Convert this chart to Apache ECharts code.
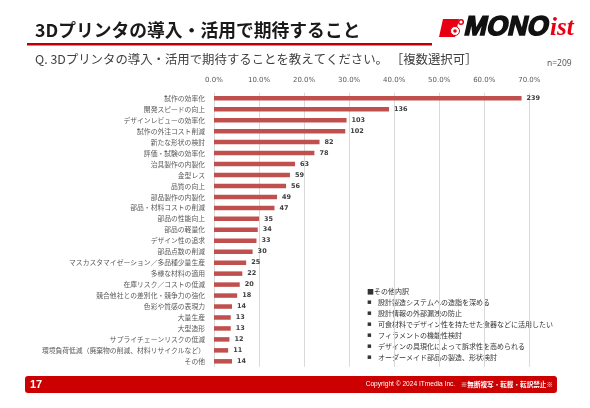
<!DOCTYPE html>
<html>
<head>
<meta charset="utf-8">
<script src="https://cdn.jsdelivr.net/npm/echarts@6/dist/echarts.min.js"></script>
<style>
html,body{margin:0;padding:0;background:#fff;}
#chart{width:590px;height:408px;}
</style>
</head>
<body>
<div id="chart"></div>
<script>
// ---- data ----
const categories = [
  '試作の効率化','開発スピードの向上','デザインレビューの効率化','試作の外注コスト削減',
  '新たな形状の検討','評価・試験の効率化','治具製作の内製化','金型レス','品質の向上',
  '部品製作の内製化','部品・材料コストの削減','部品の性能向上','部品の軽量化',
  'デザイン性の追求','部品点数の削減','マスカスタマイゼーション／多品種少量生産',
  '多様な材料の適用','在庫リスク／コストの低減','競合他社との差別化・競争力の強化',
  '色彩や質感の表現力','大量生産','大型造形','サプライチェーンリスクの低減',
  '環境負荷低減（廃棄物の削減、材料リサイクルなど）','その他'
];
const counts = [239,136,103,102,82,78,63,59,56,49,47,35,34,33,30,25,22,20,18,14,13,13,12,11,14];
const tickLabels = ['0.0%','10.0%','20.0%','30.0%','40.0%','50.0%','60.0%','70.0%'];
const respondentBase = 350; // count corresponding to 100% on the axis
const otherTitle = '■その他内訳';
const otherBreakdown = [
  '設計製造システムへの造詣を深める',
  '設計情報の外部漏洩の防止',
  '可食材料でデザイン性を持たせた食器などに活用したい',
  'フィラメントの機能性検討',
  'デザインの具現化によって訴求性を高められる',
  'オーダーメイド部品の製造、形状検討'
];
const titleText = '3Dプリンタの導入・活用で期待すること';
const questionText = 'Q. 3Dプリンタの導入・活用で期待することを教えてください。 ［複数選択可］';
const nText = 'n=209';
const pageNo = '17';

// ---- chart ----
const JP = '"Noto Sans CJK JP", "Noto Sans", sans-serif';
const step = respondentBase / 10;
const chart = echarts.init(document.getElementById('chart'), null, {renderer: 'canvas'});

const graphics = [
  {type:'text', style:{text:titleText, x:35, y:30, fontSize:17.8, fontWeight:'bold', fontFamily:JP, fill:'#1a1a1a', verticalAlign:'middle'}},
  {type:'rect', shape:{x:27, y:43, width:405, height:2.5}, style:{fill:'#c00000'}},
  {type:'text', style:{text:questionText, x:35, y:59, fontSize:12.4, fontFamily:JP, fill:'#404040', verticalAlign:'middle'}},
  {type:'text', style:{text:nText, x:547, y:64, fontSize:8.5, fontFamily:'"Noto Sans", sans-serif', fill:'#595959', verticalAlign:'middle'}},
  // logo
  {type:'polygon', shape:{points:[[443,19],[459,19],[455,37],[439,37]]}, style:{fill:'#e60012'}},
  {type:'circle', shape:{cx:455, cy:31, r:4.5}, style:{fill:'#fff', stroke:'#e60012', lineWidth:1}},
  {type:'circle', shape:{cx:455, cy:31, r:1.8}, style:{fill:'#e60012'}},
  {type:'circle', shape:{cx:461, cy:22, r:2.3}, style:{fill:'none', stroke:'#e60012', lineWidth:1.5}},
  {type:'text', x:465, y:27.6, skewX:-0.22,
    style:{text:'MONO', x:0, y:0, fontSize:27, fontWeight:'bold',
    fontFamily:'Liberation Sans', fill:'#111', stroke:'#111', lineWidth:1.6, verticalAlign:'middle'}},
  {type:'text', style:{text:'ist', x:550, y:28.5, fontSize:25, fontWeight:'bold', fontStyle:'italic',
    fontFamily:'Liberation Serif', fill:'#e60012', verticalAlign:'middle'}},
  // other breakdown
  {type:'text', style:{text:otherTitle, x:367, y:291.5, fontSize:7, fontFamily:JP, fill:'#333', verticalAlign:'middle'}},
  // footer
  {type:'rect', shape:{x:25, y:376, width:532, height:17, r:3}, style:{fill:'#cc0000'}},
  {type:'text', style:{text:pageNo, x:30, y:384.5, fontSize:11, fontWeight:'bold', fontFamily:'"Liberation Sans", Arial, sans-serif', fill:'#fff', verticalAlign:'middle'}},
  {type:'text', style:{
    text:'{a|Copyright © 2024 ITmedia Inc.   }{b|※無断複写・転載・転訳禁止※}',
    x:553, y:384.5, align:'right', verticalAlign:'middle',
    rich:{
      a:{fontSize:6.6, fontFamily:'"Liberation Sans", Arial, sans-serif', fill:'#fff', color:'#fff'},
      b:{fontSize:6.6, fontWeight:'bold', fontFamily:JP, fill:'#fff', color:'#fff'}
    }
  }}
];
otherBreakdown.forEach(function(t, i){
  const y = 302.5 + i * 11;
  graphics.push({type:'text', style:{text:'▪', x:367, y:y, fontSize:7, fontFamily:'"DejaVu Sans", sans-serif', fill:'#333', verticalAlign:'middle'}});
  graphics.push({type:'text', style:{text:t, x:378, y:y, fontSize:7, fontFamily:JP, fill:'#333', verticalAlign:'middle'}});
});

chart.setOption({
  animation:false,
  backgroundColor:'#fff',
  grid:{left:214, right:60.7, top:92.8, bottom:41.2, containLabel:false},
  xAxis:{
    type:'value', position:'top', min:0, max:step*7, interval:step,
    axisLine:{show:false}, axisTick:{show:false},
    splitLine:{show:true, lineStyle:{color:'#d9d9d9', width:1}},
    axisLabel:{
      margin:9, fontSize:7, fontFamily:'"DejaVu Sans", sans-serif', color:'#595959',
      formatter:function(v){ return tickLabels[Math.round(v/step)]; }
    }
  },
  yAxis:{
    type:'category', data:categories, inverse:true,
    axisLine:{show:false}, axisTick:{show:false},
    axisLabel:{margin:9, fontSize:6.8, fontFamily:JP, color:'#595959', interval:0}
  },
  series:[{
    type:'bar', data:counts, barWidth:4.5,
    itemStyle:{color:'#c0504d'},
    label:{show:true, position:'right', distance:5, fontSize:6.5, fontWeight:'bold',
      fontFamily:'"DejaVu Sans", sans-serif', color:'#404040'}
  }],
  graphic:graphics
});
</script>
</body>
</html>
